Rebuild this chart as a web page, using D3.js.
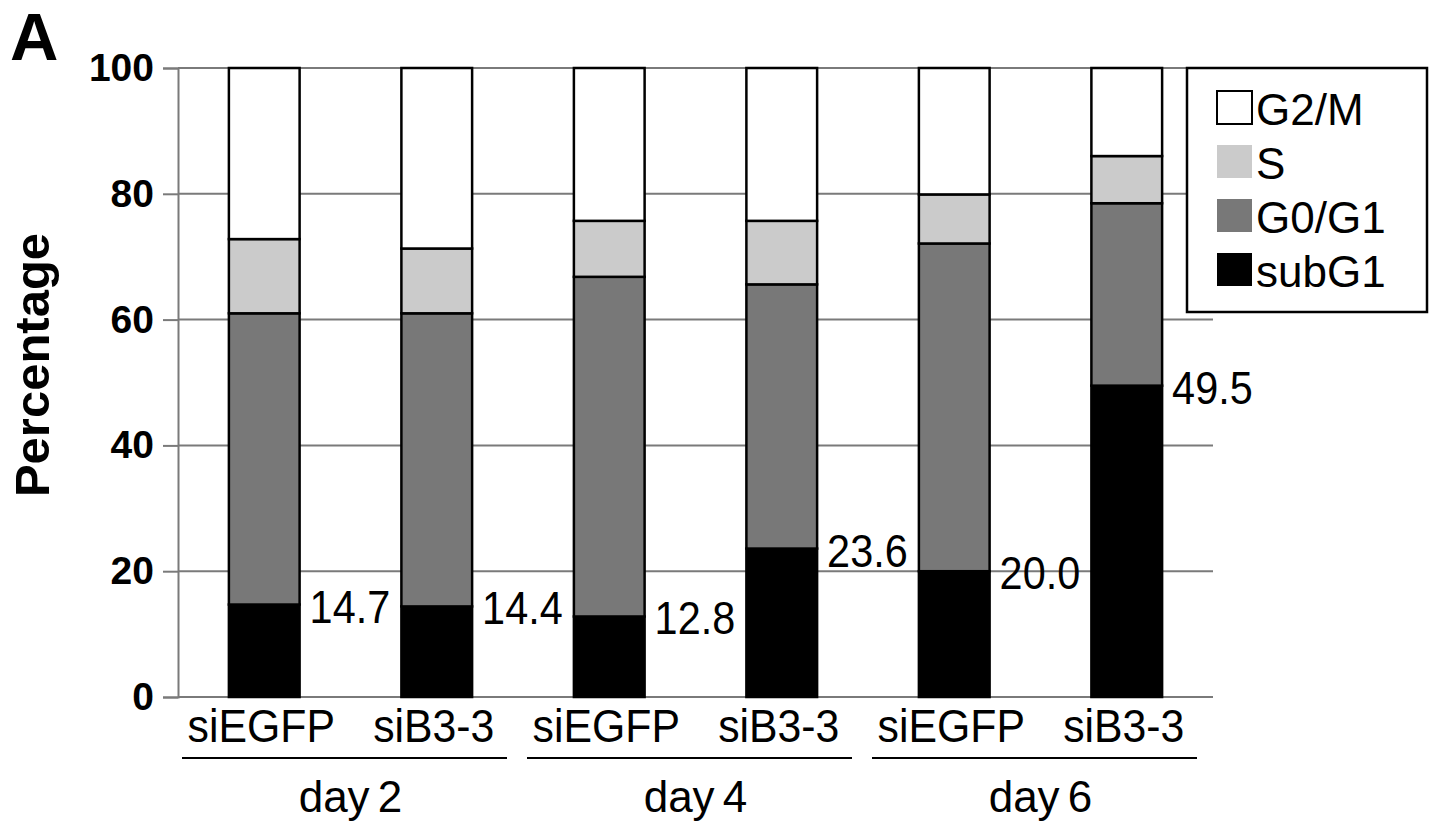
<!DOCTYPE html>
<html>
<head>
<meta charset="utf-8">
<script src="https://cdn.jsdelivr.net/npm/d3@7"></script>
<style>
  html, body { margin: 0; padding: 0; background: #fff; }
  svg { display: block; font-family: "Liberation Sans", Arial, sans-serif; }
</style>
</head>
<body>
<svg id="chart" width="1441" height="835"></svg>
<script>
// ---- data ----
const categories = ["siEGFP", "siB3-3", "siEGFP", "siB3-3", "siEGFP", "siB3-3"];
const groups = ["day 2", "day 4", "day 6"];
const subG1 = [14.7, 14.4, 12.8, 23.6, 20.0, 49.5];
const g0g1 = [46.3, 46.6, 54.0, 42.0, 52.1, 29.0];
const sPhase = [11.8, 10.3, 8.9, 10.1, 7.8, 7.5];
const g2m = [27.2, 28.7, 24.3, 24.3, 20.1, 14.0];
const valueLabels = ["14.7", "14.4", "12.8", "23.6", "20.0", "49.5"];
const yTicks = [0, 20, 40, 60, 80, 100];
const seriesKeys = ["subG1", "G0/G1", "S", "G2/M"];
const legendOrder = ["G2/M", "S", "G0/G1", "subG1"];

// ---- layout ----
const svg = d3.select("#chart");
const plotLeft = 178, plotRight = 1213, plotTop = 68, plotBottom = 697;
const colors = { "G2/M": "#ffffff", "S": "#cbcbcb", "G0/G1": "#787878", "subG1": "#000000" };

const rows = categories.map((c, i) => ({
  i, cat: c, "subG1": subG1[i], "G0/G1": g0g1[i], "S": sPhase[i], "G2/M": g2m[i]
}));

const x = d3.scaleBand().domain(d3.range(categories.length)).range([plotLeft, plotRight])
  .paddingInner(0.59).paddingOuter(0.295);
const y = d3.scaleLinear().domain([0, 100]).range([plotBottom, plotTop]);

// gridlines
svg.append("g").selectAll("line").data(yTicks).join("line")
  .attr("x1", plotLeft).attr("x2", plotRight)
  .attr("y1", d => y(d)).attr("y2", d => y(d))
  .attr("stroke", "#7a7a7a").attr("stroke-width", 2);

// y axis
const yAxis = svg.append("g").attr("transform", `translate(${plotLeft},0)`)
  .call(d3.axisLeft(y).tickValues(yTicks).tickSize(15).tickPadding(9));
yAxis.select(".domain").attr("stroke", "#7a7a7a").attr("stroke-width", 2);
yAxis.selectAll(".tick line").attr("stroke", "#7a7a7a").attr("stroke-width", 2);
yAxis.selectAll(".tick text")
  .attr("font-family", "Liberation Sans, Arial, sans-serif")
  .attr("font-size", 39).attr("font-weight", "bold").attr("fill", "#000");

// stacked bars
const stack = d3.stack().keys(seriesKeys)(rows);
svg.append("g").selectAll("g").data(stack).join("g")
  .attr("fill", d => colors[d.key])
  .selectAll("rect").data(d => d).join("rect")
  .attr("x", d => x(d.data.i))
  .attr("width", x.bandwidth())
  .attr("y", d => y(d[1]))
  .attr("height", d => y(d[0]) - y(d[1]))
  .attr("stroke", "#000").attr("stroke-width", 2.5);

// value labels (subG1)
svg.append("g").selectAll("text").data(rows).join("text")
  .attr("transform", d => `translate(${x(d.i) + x.bandwidth() + 10},${y(d.subG1) + 18}) scale(0.9,1)`)
  .attr("font-size", 46).attr("fill", "#000")
  .text(d => valueLabels[d.i]);

// category labels
svg.append("g").selectAll("text").data(rows).join("text")
  .attr("transform", d => `translate(${x(d.i) + x.bandwidth() / 2 - 3},742) scale(0.93,1)`)
  .attr("text-anchor", "middle").attr("font-size", 46).attr("fill", "#000")
  .text(d => d.cat);

// group lines and labels
const gw = x.step() * 2;
groups.forEach((g, k) => {
  const gx0 = plotLeft + k * gw;
  svg.append("line")
    .attr("x1", gx0 + 4).attr("x2", gx0 + gw - 16)
    .attr("y1", 758).attr("y2", 758)
    .attr("stroke", "#000").attr("stroke-width", 2);
  svg.append("text")
    .attr("x", gx0 + gw / 2).attr("y", 812)
    .attr("text-anchor", "middle").attr("font-size", 44).attr("fill", "#000")
    .attr("word-spacing", -4)
    .text(g);
});

// legend
const lg = svg.append("g");
lg.append("rect").attr("x", 1187).attr("y", 68).attr("width", 240).attr("height", 244)
  .attr("fill", "#fff").attr("stroke", "#000").attr("stroke-width", 2.5);
legendOrder.forEach((k, j) => {
  const ry = 91 + j * 54;
  lg.append("rect").attr("x", 1217).attr("y", ry).attr("width", 35).attr("height", 33)
    .attr("fill", colors[k])
    .attr("stroke", k === "G2/M" ? "#000" : "none").attr("stroke-width", 2);
  lg.append("text").attr("x", 1256).attr("y", ry + 34)
    .attr("font-size", 44).attr("fill", "#000").text(k);
});

// y-axis title
svg.append("text")
  .attr("transform", "translate(49,365) rotate(-90)")
  .attr("text-anchor", "middle").attr("font-size", 49).attr("font-weight", "bold")
  .attr("fill", "#000").text("Percentage");

// panel letter
svg.append("text").attr("x", 10).attr("y", 60)
  .attr("font-size", 67).attr("font-weight", "bold").attr("fill", "#000").text("A");
</script>
</body>
</html>
